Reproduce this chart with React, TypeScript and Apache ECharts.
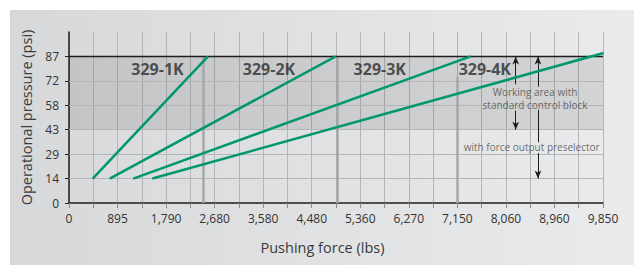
import React, { useEffect, useRef } from "react";
import * as echarts from "echarts";

// ---- data ----
const xTickLabels = ["0", "895", "1,790", "2,680", "3,580", "4,480", "5,360", "6,270", "7,150", "8,060", "8,960", "9,850"];
const yTickValues = [0, 14.5, 29, 43.5, 58, 72.5, 87];
const seriesNames = ["329-1K", "329-2K", "329-3K", "329-4K"];
const startForce = [437, 751, 1186, 1537];
const startPressure = [14.5, 14.5, 14.5, 14.5];
const endForce = [2564, 4920, 7410, 9860];
const endPressure = [87, 87, 87, 89];
const labelForce = [1632, 3689, 5733, 7670];
const labelPressure = [79.3, 79.3, 79.3, 79.3];
const limitForce = [2480, 4945, 7170];
const limitTop = [87, 87, 75];
const bandRange = [43.5, 87];
const hGrid = [14.5, 29, 43.5, 58, 72.5];
const arrowForce = [8240, 8651];
const noteTexts = ["Working area with\nstandard control block", "with force output preselector"];
const noteForce = [8596, 8535];
const notePressure = [62.1, 33.3];

const X_MAX = 9850;
const X_STEP = X_MAX / 22;
const FONT = "'Open Sans', 'Noto Sans', sans-serif";
const GREEN = "#00976f";

export default function App() {
  const ref = useRef<HTMLDivElement>(null);
  useEffect(() => {
    if (!ref.current) return;
    const chart = echarts.init(ref.current, null, { renderer: "svg" });
    const seg = (x: number, y1: number, y2: number) => [{ coord: [x, y1] }, { coord: [x, y2] }];
    const option: any = {
      animation: false,
      backgroundColor: "transparent",
      textStyle: { fontFamily: FONT },
      grid: { left: 69, right: 31, top: 32, bottom: 62 },
      xAxis: {
        type: "value",
        min: 0,
        max: X_MAX,
        interval: X_STEP,
        name: "Pushing force (lbs)",
        nameLocation: "middle",
        nameGap: 37,
        nameTextStyle: { fontSize: 14.5, color: "#3a3a3a", fontFamily: FONT, padding: [0, 27, 0, 0] },
        axisLine: { show: true, lineStyle: { color: "#1e1e1e", width: 1.5 } },
        axisTick: { show: true, length: 5, lineStyle: { color: "#888a8c", width: 1 } },
        axisLabel: {
          margin: 9,
          fontSize: 12,
          color: "#333",
          fontFamily: FONT,
          showMaxLabel: true,
          showMinLabel: true,
          formatter: (v: number) => {
            const i = Math.round(v / X_STEP);
            return i % 2 === 0 ? xTickLabels[i / 2] ?? "" : "";
          },
        },
        splitLine: { show: true, lineStyle: { color: "#b4b5b7", width: 1 } },
      },
      yAxis: {
        type: "value",
        min: 0,
        max: 101.5,
        interval: 14.5,
        name: "Operational pressure (psi)",
        nameLocation: "middle",
        nameGap: 33,
        nameTextStyle: { fontSize: 14.5, color: "#3a3a3a", fontFamily: FONT },
        axisLine: { show: true, lineStyle: { color: "#1e1e1e", width: 1.5 } },
        axisTick: { show: true, length: 4, customValues: yTickValues, lineStyle: { color: "#1e1e1e", width: 1 } },
        axisLabel: {
          margin: 10,
          fontSize: 12,
          color: "#333",
          fontFamily: FONT,
          customValues: yTickValues,
          formatter: (v: number) => (v > 90 ? "" : String(Math.floor(v))),
        },
        splitLine: { show: false },
      },
      series: [
        {
          type: "line",
          data: [],
          silent: true,
          markArea: {
            silent: true,
            itemStyle: { color: "rgba(0,0,0,0.095)" },
            data: [[{ yAxis: bandRange[0] }, { yAxis: bandRange[1] }]],
          },
          markLine: {
            silent: true,
            symbol: ["none", "none"],
            label: { show: false },
            lineStyle: { color: "#b4b5b7", width: 1, type: "solid" },
            data: hGrid.map((v) => ({ yAxis: v })),
          },
        },
        {
          type: "line",
          data: [],
          silent: true,
          markLine: {
            silent: true,
            symbol: ["none", "none"],
            label: { show: false },
            lineStyle: { color: "#a6a7a9", width: 2.5, type: "solid" },
            data: limitForce.map((f, i) => seg(f, limitTop[i], 0)),
          },
        },
        {
          type: "line",
          data: [],
          silent: true,
          markLine: {
            silent: true,
            symbol: ["none", "none"],
            label: { show: false },
            lineStyle: { color: "#1e1e1e", width: 1.3, type: "solid" },
            data: [{ yAxis: bandRange[1] }],
          },
        },
        {
          type: "line",
          data: [],
          silent: true,
          markLine: {
            silent: true,
            symbol: ["arrow", "none"],
            symbolSize: [5, 8],
            label: { show: false },
            lineStyle: { color: "#1e1e1e", width: 1, type: "solid" },
            data: [seg(arrowForce[0], 87, 70.5), seg(arrowForce[1], 87, 69.1)],
          },
        },
        {
          type: "line",
          data: [],
          silent: true,
          markLine: {
            silent: true,
            symbol: ["none", "arrow"],
            symbolSize: [5, 8],
            label: { show: false },
            lineStyle: { color: "#1e1e1e", width: 1, type: "solid" },
            data: [seg(arrowForce[0], 54.8, 43.5), seg(arrowForce[1], 29.7, 14.5)],
          },
        },
        {
          type: "line",
          data: [],
          silent: true,
          markLine: {
            silent: true,
            symbol: ["none", "none"],
            label: { show: false },
            lineStyle: { color: "#1e1e1e", width: 1, type: "solid" },
            data: [seg(arrowForce[1], 55.3, 36)],
          },
        },
        ...seriesNames.map((n, i) => ({
          type: "line",
          name: n,
          z: 5,
          symbol: "none",
          silent: true,
          lineStyle: { color: GREEN, width: 2.5 },
          data: [
            [startForce[i], startPressure[i]],
            [endForce[i], endPressure[i]],
          ],
        })),
        {
          type: "scatter",
          z: 6,
          silent: true,
          symbolSize: 1,
          itemStyle: { color: "transparent" },
          label: {
            show: true,
            position: "inside",
            formatter: "{b}",
            fontSize: 16,
            fontWeight: "bold",
            color: "#2b2b2b",
            fontFamily: FONT,
          },
          data: seriesNames.map((n, i) => ({ name: n, value: [labelForce[i], labelPressure[i]] })),
        },
        {
          type: "scatter",
          z: 6,
          silent: true,
          symbolSize: 1,
          itemStyle: { color: "transparent" },
          label: {
            show: true,
            position: "inside",
            formatter: "{b}",
            fontSize: 10,
            lineHeight: 13.5,
            align: "center",
            color: "#4a4a4a",
            fontFamily: FONT,
          },
          data: noteTexts.map((t, i) => ({ name: t, value: [noteForce[i], notePressure[i]] })),
        },
      ],
    };
    chart.setOption(option);
    return () => chart.dispose();
  }, []);

  return (
    <div style={{ position: "absolute", left: 0, top: 0, width: 634, height: 265, background: "#ffffff" }}>
      <div
        style={{
          position: "absolute",
          left: 10,
          top: 10,
          width: 624,
          height: 255,
          background: "linear-gradient(to right, #d7d8da, #eaebec)",
        }}
      />
      <div ref={ref} style={{ position: "absolute", left: 0, top: 0, width: 634, height: 265 }} />
    </div>
  );
}
